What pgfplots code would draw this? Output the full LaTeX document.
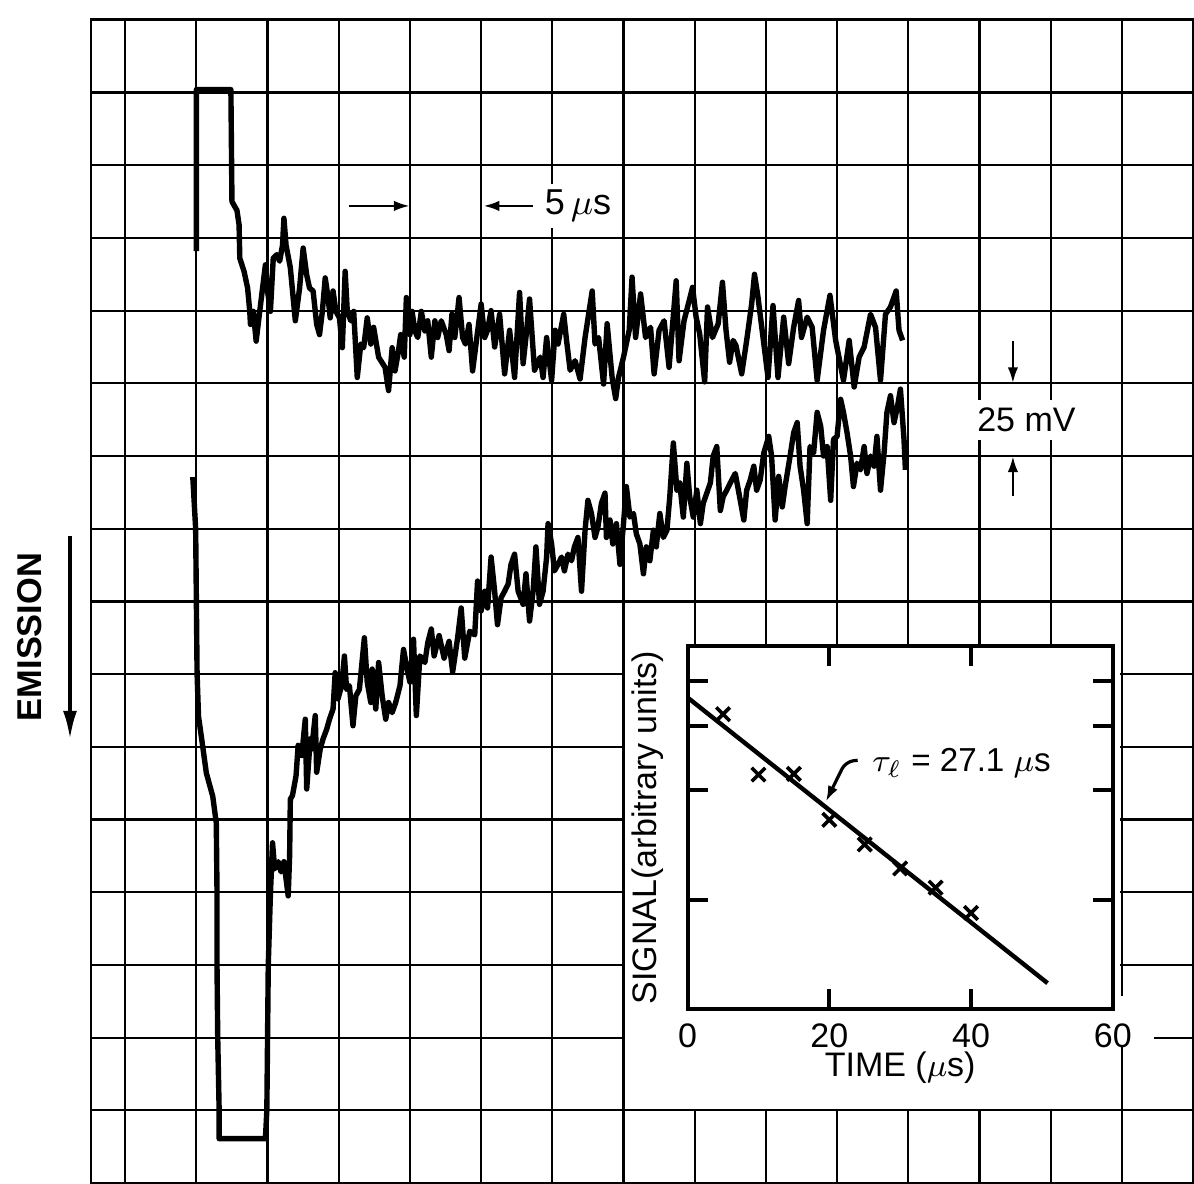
\documentclass[border=0pt]{standalone}
\usepackage{pgfplots}
\pgfplotsset{compat=1.18}
\usepackage{fontspec}
\setmainfont{Liberation Sans}
\usetikzlibrary{arrows.meta}

% oscilloscope traces, in screen divisions (x: 5 us/div, y: 25 mV/div)
\pgfplotstableread{
x y
1.00 12.82
1.00 15.04
1.485 15.04
1.50 13.50
1.57 13.38
1.60 13.18
1.61 12.72
1.67 12.54
1.72 12.31
1.75 11.99
1.76 11.81
1.80 11.99
1.84 11.58
1.89 11.99
1.97 12.63
2.00 12.27
2.04 11.99
2.08 12.72
2.13 12.77
2.17 12.68
2.21 12.90
2.23 13.27
2.26 12.90
2.32 12.59
2.39 11.86
2.45 12.31
2.50 12.86
2.55 12.49
2.59 12.31
2.64 12.27
2.69 11.81
2.73 11.67
2.77 11.99
2.81 12.45
2.85 12.18
2.88 11.90
2.92 12.27
2.96 11.99
3.01 11.90
3.05 11.49
3.09 12.54
3.12 11.99
3.17 11.86
3.21 11.99
3.26 11.08
3.31 11.54
3.35 11.49
3.40 11.90
3.45 11.54
3.49 11.77
3.56 11.36
3.65 11.22
3.70 10.90
3.75 11.49
3.79 11.17
3.84 11.45
3.87 11.67
3.92 11.36
3.95 12.18
4.00 11.67
4.03 11.99
4.07 11.72
4.11 11.63
4.16 11.99
4.21 11.72
4.25 11.86
4.30 11.36
4.35 11.86
4.39 11.63
4.44 11.86
4.51 11.67
4.55 11.45
4.59 11.95
4.63 11.63
4.69 12.18
4.74 11.63
4.78 11.54
4.83 11.81
4.88 11.17
5.00 12.09
5.05 11.63
5.09 11.73
5.14 12.00
5.19 11.50
5.26 11.95
5.33 11.13
5.40 11.73
5.47 11.08
5.54 12.25
5.59 11.27
5.64 11.73
5.68 12.16
5.75 11.18
5.83 11.36
5.87 11.08
5.92 11.63
5.99 11.04
6.04 11.73
6.08 11.54
6.16 11.95
6.20 11.59
6.25 11.18
6.32 11.31
6.39 11.06
6.46 11.63
6.56 12.27
6.60 11.54
6.65 11.63
6.72 10.99
6.77 11.82
6.84 11.08
6.89 10.79
6.93 11.08
7.00 11.36
7.08 11.73
7.12 12.46
7.17 11.63
7.24 12.23
7.31 11.63
7.38 11.77
7.43 11.13
7.50 11.73
7.57 11.86
7.64 11.22
7.74 12.41
7.78 11.31
7.85 11.86
7.90 12.05
7.97 12.32
8.02 11.91
8.07 11.68
8.14 11.02
8.18 12.05
8.25 11.63
8.33 11.82
8.39 12.39
8.44 11.73
8.49 11.29
8.54 11.59
8.58 11.52
8.66 11.13
8.73 11.59
8.80 12.09
8.84 12.50
8.89 12.18
8.96 11.63
9.03 11.08
9.10 12.07
9.17 11.08
9.25 11.91
9.32 11.27
9.39 11.77
9.46 12.14
9.50 11.63
9.58 11.91
9.65 11.77
9.72 11.04
9.81 11.73
9.90 12.21
9.98 11.59
10.09 11.04
10.17 11.59
10.24 10.95
10.31 11.36
10.38 11.50
10.47 11.95
10.54 11.77
10.61 11.04
10.68 11.95
10.75 12.05
10.83 12.27
10.87 11.73
10.92 11.59
}\uppertrace

\pgfplotstableread{
x y
0.95 9.71
0.99 9.00
1.00 8.02
1.01 7.01
1.03 6.42
1.09 6.00
1.14 5.64
1.23 5.32
1.28 4.95
1.29 4.00
1.29 3.00
1.30 2.00
1.32 1.00
1.32 0.61
1.97 0.61
1.99 1.00
2.01 3.00
2.04 3.97
2.07 4.68
2.10 4.32
2.15 4.42
2.19 4.28
2.23 4.42
2.29 3.95
2.31 4.50
2.32 5.28
2.35 5.33
2.40 5.60
2.43 6.02
2.48 5.88
2.53 6.38
2.55 5.42
2.60 6.11
2.62 5.97
2.67 6.43
2.69 5.65
2.74 5.97
2.78 6.11
2.83 6.24
2.87 6.38
2.92 6.52
2.95 7.02
2.99 6.66
3.04 6.84
3.08 7.25
3.11 6.79
3.15 6.84
3.20 6.29
3.24 6.70
3.29 6.79
3.36 7.50
3.40 6.89
3.45 6.61
3.47 7.07
3.52 6.52
3.56 7.16
3.61 6.70
3.66 6.38
3.70 6.61
3.75 6.47
3.80 6.61
3.86 6.84
3.91 7.34
3.96 7.07
4.00 6.89
4.05 7.48
4.09 6.43
4.14 7.25
4.21 7.16
4.25 7.43
4.30 7.62
4.34 7.25
4.41 7.53
4.48 7.22
4.55 7.45
4.60 7.03
4.67 7.50
4.72 7.91
4.77 7.22
4.84 7.59
4.91 7.54
4.95 8.28
5.00 7.87
5.05 8.14
5.09 7.91
5.14 8.61
5.19 8.14
5.23 7.68
5.28 8.05
5.33 8.14
5.38 8.24
5.42 8.51
5.47 8.65
5.52 8.14
5.59 7.96
5.63 8.38
5.68 7.73
5.73 8.14
5.77 8.75
5.82 7.96
5.87 8.14
5.92 8.61
5.94 9.07
5.99 8.79
6.03 8.42
6.08 8.51
6.13 8.61
6.17 8.42
6.22 8.65
6.27 8.56
6.31 8.75
6.36 8.88
6.41 8.14
6.46 8.98
6.50 9.39
6.55 9.21
6.60 8.88
6.64 9.02
6.69 9.35
6.74 9.49
6.76 8.88
6.81 9.12
6.85 8.79
6.90 9.07
6.95 8.51
7.00 9.07
7.04 9.58
7.09 9.16
7.14 9.21
7.18 8.93
7.23 8.79
7.28 8.38
7.32 8.75
7.37 8.56
7.42 8.98
7.46 8.75
7.51 9.21
7.56 8.88
7.61 8.98
7.65 9.44
7.70 10.18
7.75 9.53
7.79 9.63
7.84 9.16
7.89 9.90
7.93 9.44
7.98 9.16
8.03 9.53
8.08 9.07
8.12 9.35
8.17 9.49
8.22 9.63
8.26 10.00
8.31 10.13
8.36 9.25
8.40 9.44
8.45 9.53
8.50 9.63
8.57 9.76
8.64 9.39
8.69 9.12
8.73 9.53
8.78 9.67
8.83 9.86
8.87 9.53
8.92 9.67
8.97 10.04
9.04 10.27
9.08 10.00
9.13 9.12
9.18 9.72
9.23 9.30
9.27 9.58
9.34 10.00
9.39 10.32
9.44 10.46
9.48 9.86
9.53 9.53
9.58 9.07
9.62 10.13
9.67 10.04
9.72 10.60
9.77 10.41
9.81 10.00
9.86 10.13
9.91 9.39
9.95 10.23
10.00 10.27
10.05 10.78
10.09 10.60
10.14 10.32
10.19 10.00
10.23 9.58
10.28 9.90
10.33 9.81
10.38 10.13
10.42 9.76
10.47 10.00
10.52 9.86
10.56 10.27
10.61 9.53
10.66 10.04
10.70 10.60
10.75 10.83
10.80 10.46
10.85 10.69
10.89 10.92
10.94 10.23
10.96 9.81
}\lowertrace

\begin{document}
\begin{tikzpicture}
\useasboundingbox (-22.75pt,0pt) rectangle (275.75pt,295.75pt);
\begin{axis}[
    at={(0pt,0pt)}, anchor=south west,
    scale only axis, width=275.5pt, height=290.8pt,
    xmin=-0.48, xmax=15, ymin=0, ymax=16,
    xtick={0,...,14}, ytick={1,...,15},
    xticklabels={}, yticklabels={},
    major tick length=0pt,
    grid=major,
    major grid style={black, line width=0.55pt},
    axis line style={line width=0.7pt},
    clip=false,
]
\addplot[black, line width=1.35pt, line join=round] table {\uppertrace};
\addplot[black, line width=1.35pt, line join=round] table {\lowertrace};

% blank panel behind the inset
\fill[white] (axis cs:7.02,1.02) rectangle (axis cs:13.98,7.39);
\fill[white] (axis cs:13.9,1.87) rectangle (axis cs:14.45,2.57);
\coordinate (insetsw) at (axis cs:7.9,2.39);

% time scale marker
\draw[-{Latex[length=4pt,width=2.6pt]}, line width=0.7pt] (axis cs:3.14,13.44) -- (axis cs:4.0,13.44);
\draw[-{Latex[length=4pt,width=2.6pt]}, line width=0.7pt] (axis cs:5.73,13.44) -- (axis cs:5.03,13.44);
\node[anchor=west, fill=white, inner sep=1.5pt, font=\fontsize{9}{10}\selectfont]
    at (axis cs:5.8,13.44) {5\,$\mu$s};

% voltage scale marker
\draw[-{Latex[length=4pt,width=2.6pt]}, line width=0.7pt] (axis cs:12.47,11.58) -- (axis cs:12.47,11.0);
\draw[-{Latex[length=4pt,width=2.6pt]}, line width=0.7pt] (axis cs:12.47,9.45) -- (axis cs:12.47,10.0);
\node[fill=white, inner sep=2pt, font=\fontsize{8.5}{10}\selectfont]
    at (axis cs:12.66,10.5) {25 mV};

% emission direction
\node[rotate=90, font=\bfseries\fontsize{8.6}{9}\selectfont] at (axis cs:-1.34,7.51) {EMISSION};
\draw[-{Latex[length=7pt,width=3.5pt]}, line width=0.8pt] (axis cs:-0.775,8.9) -- (axis cs:-0.775,6.11);
\end{axis}

% inset: semilog plot of the decay
\begin{axis}[
    at={(insetsw)}, anchor=south west,
    scale only axis, width=106.3pt, height=90.9pt,
    xmin=0, xmax=60, ymode=log, ymin=0.5, ymax=5,
    xtick={0,20,40,60}, ytick={1,2,3,4}, yticklabels={},
    yminorticks=false,
    tick align=inside, major tick length=5pt,
    every tick/.style={black, line width=1pt},
    axis line style={line width=1pt},
    /pgf/number format/assume math mode=true,
    xticklabel style={font=\fontsize{8.5}{10}\selectfont},
    every axis x label/.style={at={(axis description cs:0.5,-0.16)}, anchor=center},
    every axis y label/.style={at={(axis description cs:-0.094,0.5)}, rotate=90, anchor=center},
    label style={font=\fontsize{8.5}{10}\selectfont},
    xlabel={TIME ($\mu$s)},
    ylabel={SIGNAL(arbitrary units)},
    clip=false,
]
\addplot[black, line width=1.1pt] coordinates {(0,3.6) (50.8,0.59)};
\addplot[only marks, mark=x, mark size=2.4pt, mark options={black, line width=0.9pt}]
    coordinates {(5,3.24) (10,2.21) (15,2.22) (20,1.66) (25,1.42) (30,1.22) (35,1.08) (40,0.92)};
\draw[-{Latex[length=4pt,width=2.6pt]}, line width=0.8pt, rounded corners=2pt]
    (axis cs:24.0,2.42) -- (axis cs:22.3,2.40) -- (axis cs:19.5,1.86);
\node[anchor=west, font=\fontsize{8.3}{10}\selectfont] at (axis cs:24.1,2.38)
    {$\tau_{\ell}$ = 27.1 $\mu$s};
\end{axis}
\end{tikzpicture}
\end{document}
